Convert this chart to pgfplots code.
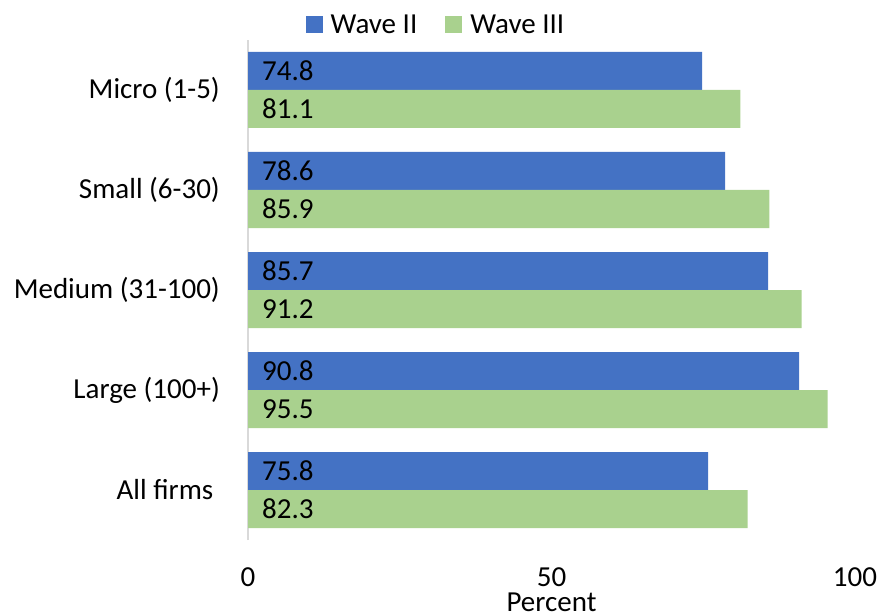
\documentclass[border=0pt]{standalone}
\usepackage{pgfplots}
\pgfplotsset{compat=1.18}
\usepackage{fontspec}
\setmainfont{Carlito}
\definecolor{waveii}{HTML}{4472C4}
\definecolor{waveiii}{HTML}{A9D18E}
\definecolor{axgray}{HTML}{D9D9D9}
\begin{document}
\begin{tikzpicture}[font=\fontsize{29}{35}\selectfont]
\begin{axis}[
  at={(248pt,74pt)}, anchor=south west,
  scale only axis, width=607pt, height=500pt,
  xmin=0, xmax=100, ymin=-0.5, ymax=4.5,
  xbar, bar width=38pt,
  axis lines*=left,
  axis line style={-},
  x axis line style={draw=none},
  y axis line style={draw=axgray, line width=2pt},
  major tick length=0pt,
  xtick={0,50,100},
  ytick={0,1,2,3,4},
  yticklabels={{All firms\hspace*{6.5pt}},{Large (100+)},{Medium (31-100)},{Small (6-30)},{Micro (1-5)}},
  /pgf/number format/assume math mode=true,
  xticklabel style={anchor=north, inner sep=0pt, yshift=-27pt},
  yticklabel style={anchor=east, inner sep=0pt, xshift=-28pt},
  xlabel={Percent},
  xlabel style={at={(axis description cs:0.5,0)}, anchor=north, inner sep=0pt, yshift=-53pt},
  point meta=x,
  visualization depends on={x \as \rawx},
  nodes near coords={\pgfmathprintnumber[fixed,fixed zerofill,precision=1]{\pgfplotspointmeta}},
  nodes near coords style={anchor=west, inner sep=0pt, text=black, xshift={14pt-6.07pt*\rawx}},
  legend columns=2,
  legend style={at={(0.308,1.03)}, anchor=center, draw=none, fill=none, inner sep=0pt,
    /tikz/every odd column/.append style={column sep=8pt},
    /tikz/every even column/.append style={column sep=28pt},
    nodes={inner sep=0pt, anchor=west}},
  legend image code/.code={\fill[#1] (0pt,-8.5pt) rectangle (17pt,8.5pt);},
]
\addplot[fill=waveii, draw=none, bar shift=19pt] coordinates {(74.8,4) (78.6,3) (85.7,2) (90.8,1) (75.8,0)};
\addplot[fill=waveiii, draw=none, bar shift=-19pt] coordinates {(81.1,4) (85.9,3) (91.2,2) (95.5,1) (82.3,0)};
\legend{Wave II, Wave III}
\end{axis}
\pgfresetboundingbox
\path (0pt,0pt) rectangle (893pt,614pt);
\end{tikzpicture}
\end{document}
